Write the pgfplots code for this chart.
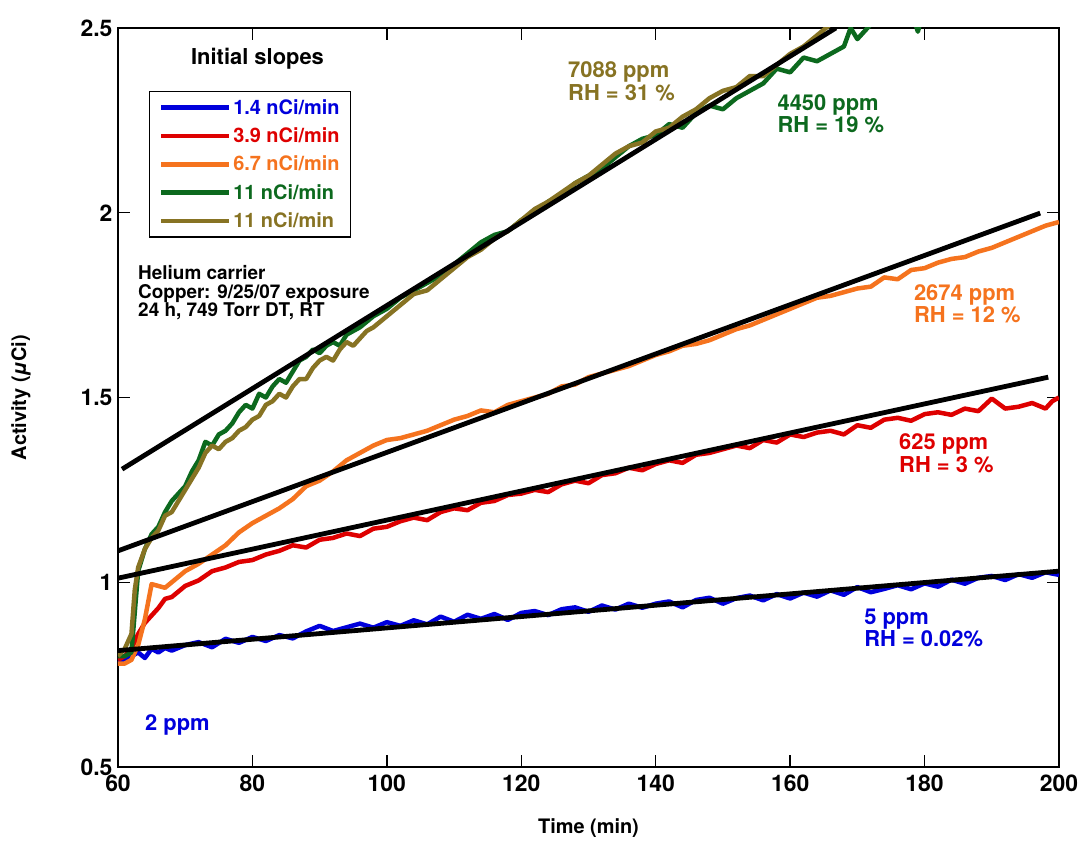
\documentclass[border=0pt]{standalone}
\usepackage{pgfplots}
\pgfplotsset{compat=1.18}
\usepackage{fontspec}
\setmainfont{TeX Gyre Heros}
\definecolor{cblue}{RGB}{0,0,220}
\definecolor{cred}{RGB}{222,0,0}
\definecolor{corange}{RGB}{245,115,30}
\definecolor{cgreen}{RGB}{12,105,30}
\definecolor{colive}{RGB}{135,115,35}
\newcommand{\af}{\bfseries\fontsize{22}{22}\selectfont}
\newcommand{\hf}{\bfseries\fontsize{19}{19}\selectfont}
\newcommand{\lf}{\bfseries\fontsize{20}{20}\selectfont}
\begin{document}
\begin{tikzpicture}
\begin{axis}[
  scale only axis, width=941bp, height=739bp,
  xmin=60, xmax=200, ymin=0.5, ymax=2.5,
  xtick={60,80,100,120,140,160,180,200},
  ytick={0.5,1,1.5,2,2.5},
  tick align=inside, major tick length=12bp,
  axis line style={line width=1.4bp},
  every tick/.style={black, line width=1.4bp},
  tick label style={font=\bfseries\fontsize{23}{23}\selectfont},
  /pgf/number format/assume math mode=true,
  xticklabel style={yshift=-4bp},
  yticklabel style={xshift=-2bp},
  xlabel={Time (min)},
  ylabel={Activity ({\itshape μ}Ci)},
  every axis x label/.style={at={(axis description cs:0.5,-0.0825)}, anchor=center, font=\bfseries\fontsize{20}{24}\selectfont},
  every axis y label/.style={at={(axis description cs:-0.103,0.5)}, rotate=90, anchor=center, font=\bfseries\fontsize{20}{24}\selectfont},
  legend style={at={(axis description cs:0.033,0.915)}, anchor=north west,
    draw=black, line width=1.4bp, font=\lf, inner xsep=9bp, inner ysep=6bp,
    row sep=8bp, cells={anchor=west},
    /tikz/every even column/.append style={column sep=3bp}},
  legend image code/.code={\draw[#1, line width=4.5bp] (0bp,0bp) -- (68bp,0bp);},
  every axis plot/.append style={line width=4.5bp, line join=round, no markers},
]
% blue 2 ppm
\addplot[cblue] coordinates {
(60,0.79)(61,0.79)(62,0.80)(63,0.81)(64,0.795)(65,0.82)(66,0.81)(67,0.822)(68,0.815)(70,0.83)
(72,0.838)(74,0.824)(76,0.847)(78,0.836)(80,0.852)(82,0.841)(84,0.857)(86,0.848)(88,0.867)(90,0.882)
(92,0.868)(94,0.878)(96,0.888)(98,0.877)(100,0.892)(102,0.882)(104,0.897)(106,0.886)(108,0.907)(110,0.893)
(112,0.912)(114,0.901)(116,0.914)(118,0.898)(120,0.917)(122,0.922)(124,0.911)(126,0.927)(128,0.932)(130,0.92)
(132,0.937)(134,0.926)(136,0.942)(138,0.931)(140,0.942)(142,0.948)(144,0.932)(146,0.952)(148,0.958)(150,0.942)
(152,0.957)(154,0.964)(156,0.951)(158,0.968)(160,0.956)(162,0.972)(164,0.961)(166,0.978)(168,0.966)(170,0.987)
(172,0.973)(174,0.982)(176,0.992)(178,0.981)(180,0.997)(182,0.988)(184,1.007)(186,0.996)(188,1.012)(190,1.017)
(192,1.006)(194,1.022)(196,1.012)(198,1.027)(200,1.02)};
% red 625 ppm
\addplot[cred] coordinates {
(60,0.79)(61,0.80)(62,0.82)(63,0.86)(64,0.89)(65,0.91)(66,0.93)(67,0.955)(68,0.96)(70,0.99)
(72,1.005)(74,1.03)(76,1.04)(78,1.055)(80,1.06)(82,1.075)(84,1.085)(86,1.10)(88,1.094)(90,1.115)
(92,1.12)(94,1.132)(96,1.125)(98,1.145)(100,1.15)(102,1.165)(104,1.175)(106,1.168)(108,1.19)(110,1.20)
(112,1.195)(114,1.215)(116,1.22)(118,1.236)(120,1.24)(122,1.25)(124,1.244)(126,1.265)(128,1.275)(130,1.268)
(132,1.29)(134,1.295)(136,1.31)(138,1.303)(140,1.32)(142,1.33)(144,1.323)(146,1.345)(148,1.35)(150,1.36)
(152,1.37)(154,1.363)(156,1.385)(158,1.378)(160,1.40)(162,1.393)(164,1.405)(166,1.41)(168,1.40)(170,1.425)
(172,1.418)(174,1.44)(176,1.445)(178,1.437)(180,1.455)(182,1.46)(184,1.453)(186,1.47)(188,1.463)(190,1.497)
(192,1.47)(194,1.475)(196,1.485)(198,1.47)(199,1.49)(200,1.50)};
% orange 2674 ppm
\addplot[corange] coordinates {
(60,0.78)(61,0.78)(62,0.79)(63,0.83)(64,0.90)(65,0.995)(66,0.99)(67,0.985)(68,1.00)(69,1.015)
(70,1.03)(72,1.05)(74,1.075)(76,1.10)(78,1.135)(80,1.16)(82,1.18)(84,1.20)(86,1.225)(88,1.26)
(90,1.275)(92,1.30)(94,1.33)(96,1.35)(98,1.37)(100,1.385)(102,1.39)(104,1.40)(106,1.41)(108,1.425)
(110,1.44)(112,1.45)(114,1.465)(116,1.46)(118,1.48)(120,1.49)(122,1.50)(124,1.51)(126,1.53)(128,1.535)
(130,1.555)(132,1.565)(134,1.575)(136,1.585)(138,1.60)(140,1.615)(142,1.625)(144,1.64)(146,1.645)(148,1.655)
(150,1.67)(152,1.685)(154,1.695)(156,1.71)(158,1.725)(160,1.74)(162,1.755)(164,1.77)(166,1.775)(168,1.785)
(170,1.795)(172,1.80)(174,1.825)(176,1.82)(178,1.845)(180,1.85)(182,1.865)(184,1.875)(186,1.88)(188,1.895)
(190,1.905)(192,1.92)(194,1.935)(196,1.95)(198,1.965)(200,1.975)};
% green 4450 ppm
\addplot[cgreen] coordinates {
(60,0.80)(61,0.80)(62,0.81)(62.5,0.92)(63,1.03)(64,1.09)(65,1.13)(66,1.15)(67,1.19)(68,1.22)
(69,1.24)(70,1.26)(71,1.30)(72,1.33)(73,1.38)(74,1.37)(75,1.40)(76,1.41)(77,1.43)(78,1.46)
(79,1.48)(80,1.47)(81,1.51)(82,1.50)(83,1.53)(84,1.55)(85,1.54)(86,1.57)(87,1.60)(88,1.61)
(89,1.63)(90,1.62)(91,1.64)(92,1.65)(93,1.64)(94,1.67)(96,1.69)(98,1.72)(100,1.74)(102,1.77)
(104,1.79)(106,1.81)(108,1.83)(110,1.86)(112,1.89)(114,1.92)(116,1.94)(118,1.95)(120,1.98)(122,2.00)
(124,2.03)(126,2.05)(128,2.08)(130,2.10)(132,2.12)(134,2.15)(136,2.18)(138,2.20)(140,2.21)(142,2.24)
(144,2.23)(146,2.27)(148,2.29)(150,2.28)(152,2.31)(154,2.33)(156,2.35)(158,2.39)(160,2.38)(162,2.42)
(164,2.41)(166,2.43)(168,2.45)(169,2.50)(170,2.47)(171,2.49)(172,2.51)(173,2.54)(174,2.56)(176,2.58)
(178,2.55)(179,2.49)(180,2.56)(182,2.60)};
% olive 7088 ppm
\addplot[colive] coordinates {
(60,0.80)(61,0.82)(62,0.86)(62.5,0.98)(63,1.04)(64,1.09)(65,1.12)(66,1.14)(67,1.18)(68,1.19)
(69,1.22)(70,1.25)(71,1.28)(72,1.31)(73,1.35)(74,1.37)(75,1.36)(76,1.38)(77,1.39)(78,1.41)
(79,1.42)(80,1.44)(81,1.45)(82,1.48)(83,1.49)(84,1.51)(85,1.50)(86,1.53)(87,1.55)(88,1.55)
(89,1.58)(90,1.60)(91,1.61)(92,1.60)(93,1.63)(94,1.65)(95,1.64)(96,1.66)(97,1.68)(98,1.69)
(100,1.72)(102,1.75)(104,1.78)(106,1.79)(108,1.82)(110,1.85)(112,1.88)(114,1.90)(116,1.93)(118,1.95)
(120,1.98)(122,2.01)(124,2.03)(126,2.055)(128,2.08)(130,2.10)(132,2.13)(134,2.16)(136,2.18)(138,2.19)
(140,2.22)(142,2.23)(144,2.26)(146,2.28)(148,2.31)(150,2.33)(152,2.34)(154,2.37)(156,2.37)(158,2.40)
(160,2.43)(162,2.45)(164,2.48)(166,2.51)};
\legend{\textcolor{cblue}{1.4 nCi/min},\textcolor{cred}{3.9 nCi/min},\textcolor{corange}{6.7 nCi/min},\textcolor{cgreen}{11 nCi/min},\textcolor{colive}{11 nCi/min}}
% fit lines
\addplot[black, line width=4.8bp, forget plot] coordinates {(60,0.815)(200,1.03)};
\addplot[black, line width=4.8bp, forget plot] coordinates {(60,1.011)(198.4,1.555)};
\addplot[black, line width=4.8bp, forget plot] coordinates {(60,1.085)(197.2,1.999)};
\addplot[black, line width=4.8bp, forget plot] coordinates {(60.6,1.306)(166.8,2.5)};
% annotations
\node[anchor=base, font=\bfseries\fontsize{22}{22}\selectfont] at (axis cs:80.76,2.400) {Initial slopes};
\node[anchor=base west, inner sep=0pt, font=\hf] at (axis cs:62.98,1.818) {Helium carrier};
\node[anchor=base west, inner sep=0pt, font=\hf] at (axis cs:62.98,1.769) {Copper: 9/25/07 exposure};
\node[anchor=base west, inner sep=0pt, font=\hf] at (axis cs:62.98,1.718) {24 h, 749 Torr DT, RT};
\node[anchor=base west, inner sep=0pt, font=\af, text=colive] at (axis cs:126.95,2.365) {7088 ppm};
\node[anchor=base west, inner sep=0pt, font=\af, text=colive] at (axis cs:126.95,2.305) {RH = 31 \%};
\node[anchor=base west, inner sep=0pt, font=\af, text=cgreen] at (axis cs:158.1,2.277) {4450 ppm};
\node[anchor=base west, inner sep=0pt, font=\af, text=cgreen] at (axis cs:158.1,2.216) {RH = 19 \%};
\node[anchor=base west, inner sep=0pt, font=\af, text=corange] at (axis cs:178.4,1.763) {2674 ppm};
\node[anchor=base west, inner sep=0pt, font=\af, text=corange] at (axis cs:178.4,1.702) {RH = 12 \%};
\node[anchor=base west, inner sep=0pt, font=\af, text=cred] at (axis cs:176.2,1.358) {625 ppm};
\node[anchor=base west, inner sep=0pt, font=\af, text=cred] at (axis cs:176.2,1.296) {RH = 3 \%};
\node[anchor=base west, inner sep=0pt, font=\af, text=cblue] at (axis cs:171.0,0.887) {5 ppm};
\node[anchor=base west, inner sep=0pt, font=\af, text=cblue] at (axis cs:171.0,0.825) {RH = 0.02\%};
\node[anchor=base west, inner sep=0pt, font=\af, text=cblue] at (axis cs:64.0,0.598) {2 ppm};
\end{axis}
\pgfresetboundingbox
\path[use as bounding box] ([xshift=-118bp,yshift=-75bp]current axis.south west) rectangle ([xshift=20bp,yshift=28bp]current axis.north east);
\end{tikzpicture}
\end{document}
